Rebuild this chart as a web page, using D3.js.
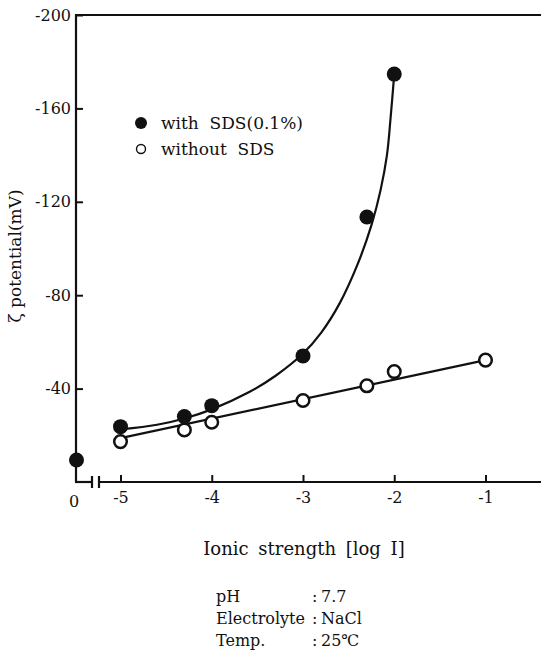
<!DOCTYPE html>
<html>
<head>
<meta charset="utf-8">
<script src="https://cdn.jsdelivr.net/npm/d3@7"></script>
<style>
  html, body { margin: 0; padding: 0; background: #fff; }
  svg { display: block; }
  text { font-family: "DejaVu Serif", "Liberation Serif", serif; fill: #111; }
</style>
</head>
<body>
<svg id="chart" width="541" height="657"></svg>
<script>
// Zeta potential vs. ionic strength (log I); x = 0 is the "no added salt" point on the broken axis
const withSdsX = [0, -5, -4.3, -4, -3, -2.3, -2];
const withSdsY = [-9.4, -23.7, -28.0, -32.7, -54.0, -113.5, -174.7];

const withoutSdsX = [-5, -4.3, -4, -3, -2.3, -2, -1];
const withoutSdsY = [-17.3, -22.3, -25.6, -34.9, -41.2, -47.3, -52.2];

// hand-drawn trend curves
const withSdsFitX = [-5, -4.6, -4.3, -4, -3.6, -3.3, -3, -2.8, -2.6, -2.4, -2.25, -2.15, -2.08, -2.04, -2];
const withSdsFitY = [-22.5, -24.5, -27.2, -31.1, -38.3, -45.5, -55, -64, -76.4, -93.4, -110, -125, -140, -156, -174.7];
const withoutSdsFitX = [-5, -1];
const withoutSdsFitY = [-18.8, -52.2];

const xTicks = [-5, -4, -3, -2, -1];
const yTicks = [-200, -160, -120, -80, -40];

const legendLabels = ["with  SDS(0.1%)", "without  SDS"];
const conditionNames = ["pH", "Electrolyte", "Temp."];
const conditionValues = ["7.7", "NaCl", "25℃"];

const svg = d3.select("#chart");
const W = 541;
const axisX = 76;          // left axis position (also where log I = "0" sits)
const breakL = 92, breakR = 99;

const x = d3.scaleLinear().domain([-5, -1]).range([120.5, 485.5]);
const y = d3.scaleLinear().domain([0, -200]).range([482, 15]);
const xPos = v => (v === 0 ? axisX + 0.5 : x(v));

const g = svg.append("g");
const ink = "#111";

// frame: left axis, top border, broken bottom axis
g.append("line").attr("x1", axisX).attr("x2", axisX).attr("y1", y(-200)).attr("y2", y(0))
  .attr("stroke", ink).attr("stroke-width", 2.2);
g.append("line").attr("x1", axisX - 1).attr("x2", W).attr("y1", y(-200)).attr("y2", y(-200))
  .attr("stroke", ink).attr("stroke-width", 2);
g.append("line").attr("x1", axisX - 1).attr("x2", breakL).attr("y1", y(0)).attr("y2", y(0))
  .attr("stroke", ink).attr("stroke-width", 2.2);
g.append("line").attr("x1", breakR).attr("x2", W).attr("y1", y(0)).attr("y2", y(0))
  .attr("stroke", ink).attr("stroke-width", 2.2);
[breakL, breakR].forEach(bx => {
  g.append("line").attr("x1", bx).attr("x2", bx).attr("y1", y(0) - 6).attr("y2", y(0) + 6)
    .attr("stroke", ink).attr("stroke-width", 2.2);
});

// y axis ticks point inward
const yAxis = g.append("g").attr("transform", `translate(${axisX},0)`)
  .call(d3.axisLeft(y).tickValues(yTicks).tickSize(-7).tickPadding(5).tickFormat(d => String(d)));
yAxis.select(".domain").remove();
yAxis.selectAll(".tick line").attr("stroke", ink).attr("stroke-width", 2);
yAxis.selectAll(".tick text").attr("font-size", 16).attr("font-family", "DejaVu Serif").attr("fill", ink);

// x axis ticks point inward
const xAxis = g.append("g").attr("transform", `translate(0,${y(0)})`)
  .call(d3.axisBottom(x).tickValues(xTicks).tickSize(-7).tickPadding(10).tickFormat(d => String(d)));
xAxis.select(".domain").remove();
xAxis.selectAll(".tick line").attr("stroke", ink).attr("stroke-width", 2);
xAxis.selectAll(".tick text").attr("font-size", 16).attr("font-family", "DejaVu Serif").attr("fill", ink);
g.append("text").attr("x", axisX - 2).attr("y", y(0) + 25).attr("text-anchor", "middle")
  .attr("font-size", 16).text("0");

// axis titles
g.append("text").attr("transform", `translate(21,256) rotate(-90)`).attr("text-anchor", "middle")
  .attr("font-size", 17).text("ζ potential(mV)");
g.append("text").attr("x", 304).attr("y", 555).attr("text-anchor", "middle")
  .attr("font-size", 18).attr("word-spacing", 4).text("Ionic strength [log I]");

// trend curves
const line = d3.line().x(d => xPos(d[0])).y(d => y(d[1]));
g.append("path").datum(d3.zip(withSdsFitX, withSdsFitY))
  .attr("d", line.curve(d3.curveCatmullRom.alpha(0.5))).attr("fill", "none").attr("stroke", ink).attr("stroke-width", 2.2);
g.append("path").datum(d3.zip(withoutSdsFitX, withoutSdsFitY))
  .attr("d", line.curve(d3.curveLinear)).attr("fill", "none").attr("stroke", ink).attr("stroke-width", 2.2);

// markers
g.selectAll("circle.open").data(d3.zip(withoutSdsX, withoutSdsY)).join("circle")
  .attr("class", "open").attr("cx", d => xPos(d[0])).attr("cy", d => y(d[1])).attr("r", 6.3)
  .attr("fill", "#fff").attr("stroke", ink).attr("stroke-width", 2.5);
g.selectAll("circle.filled").data(d3.zip(withSdsX, withSdsY)).join("circle")
  .attr("class", "filled").attr("cx", d => xPos(d[0])).attr("cy", d => y(d[1])).attr("r", 7.5)
  .attr("fill", ink);

// legend
const legend = g.append("g");
legend.append("circle").attr("cx", 141).attr("cy", 123).attr("r", 6).attr("fill", ink);
legend.append("circle").attr("cx", 141).attr("cy", 149).attr("r", 4.5).attr("fill", "#fff")
  .attr("stroke", ink).attr("stroke-width", 1.4);
legendLabels.forEach((t, i) => {
  legend.append("text").attr("x", 161).attr("y", 128.5 + i * 26.5).attr("font-size", 17)
    .style("white-space", "pre").text(t);
});

// experimental conditions
conditionNames.forEach((t, i) => {
  const yy = 602 + i * 22;
  g.append("text").attr("x", 216).attr("y", yy).attr("font-size", 16).text(t);
  g.append("text").attr("x", 312).attr("y", yy).attr("font-size", 16).text(":");
  g.append("text").attr("x", 321).attr("y", yy).attr("font-size", 16).text(conditionValues[i]);
});
</script>
</body>
</html>
